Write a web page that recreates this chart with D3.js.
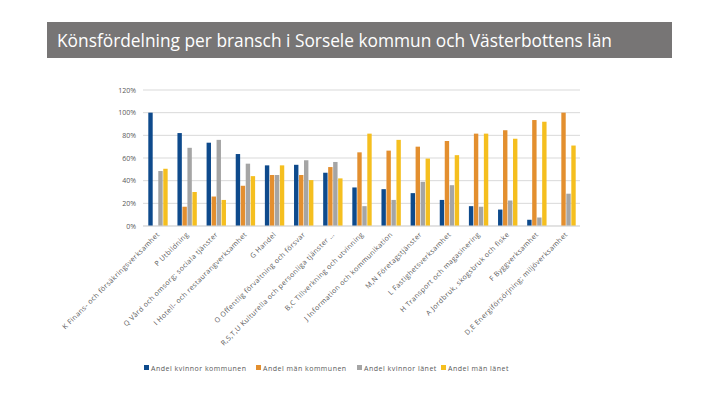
<!DOCTYPE html>
<html><head><meta charset="utf-8">
<script src="https://cdn.jsdelivr.net/npm/d3@7"></script>
<style>body{margin:0;background:#fff;}svg{display:block;}</style>
</head><body>
<svg id="c" width="720" height="405"></svg>
<script>
const categories = [
  "K Finans- och försäkringsverksamhet",
  "P Utbildning",
  "Q Vård och omsorg; sociala tjänster",
  "I Hotell- och restaurangverksamhet",
  "G Handel",
  "O Offentlig förvaltning och försvar",
  "R,S,T,U Kulturella och personliga tjänster …",
  "B,C Tillverkning och utvinning",
  "J Information och kommunikation",
  "M,N Företagstjänster",
  "L Fastighetsverksamhet",
  "H Transport och magasinering",
  "A Jordbruk, skogsbruk och fiske",
  "F Byggverksamhet",
  "D,E Energiförsörjning; miljöverksamhet"
];
const seriesNames = ["Andel kvinnor kommunen","Andel män kommunen","Andel kvinnor länet","Andel män länet"];
const kvinnorKommun = [100,82,73.5,63.5,53.5,54,47,34,32.5,29,23,17.5,14.5,5.5,0];
const manKommun     = [0,17,26,35.5,45,45,52,65,66.5,70,75,81.5,84.5,93.5,100];
const kvinnorLan    = [48.5,69,76,55,45,58,56.5,17.5,23,39,36,17,22.5,7.5,28.5];
const manLan        = [50.5,30,23,44,53.5,40.5,42,81.5,76,59.5,62.5,81.5,77,92,71];
const yTicks = [0,20,40,60,80,100,120];
const colors = ["#0e4a8c","#e38f2f","#a5a5a5","#f5bf1f"];

const series = [kvinnorKommun, manKommun, kvinnorLan, manLan];
const svg = d3.select("#c");
const font = "'Open Sans', sans-serif";

// title bar
svg.append("rect").attr("x",47).attr("y",22).attr("width",625).attr("height",36).attr("fill","#777575");
svg.append("text").attr("x",57).attr("y",47).attr("fill","#fff")
  .attr("font-family","'Open Sans',sans-serif").attr("font-size",19)
  .attr("textLength",555).attr("lengthAdjust","spacingAndGlyphs")
  .text("Könsfördelning per bransch i Sorsele kommun och Västerbottens län");

const x0 = d3.scaleBand().domain(categories).range([148,576]).paddingInner(0.315).paddingOuter(0);
const x1 = d3.scaleBand().domain(d3.range(4)).range([0,x0.bandwidth()]).padding(0);
const y = d3.scaleLinear().domain([0,120]).range([226,90]);

// gridlines
svg.append("g").selectAll("line").data(yTicks).join("line")
  .attr("x1",143).attr("x2",580).attr("y1",d=>y(d)).attr("y2",d=>y(d))
  .attr("stroke","#d9d9d9").attr("stroke-width",1);
svg.append("g").selectAll("text").data(yTicks).join("text")
  .attr("x",136).attr("y",d=>y(d)+2.5).attr("text-anchor","end")
  .attr("font-family",font).attr("font-size",7).attr("fill","#595959")
  .text(d=>d+"%");

// bars
const g = svg.append("g");
categories.forEach((c,i)=>{
  series.forEach((s,k)=>{
    g.append("rect").attr("x",x0(c)+x1(k)+0.3).attr("width",x1.bandwidth()-0.6)
      .attr("y",y(s[i])).attr("height",y(0)-y(s[i])).attr("fill",colors[k]);
  });
});
svg.append("line").attr("x1",143).attr("x2",580).attr("y1",y(0)).attr("y2",y(0)).attr("stroke","#d9d9d9");

// x labels
svg.append("g").selectAll("text").data(categories).join("text")
  .attr("transform",d=>`translate(${x0(d)+x0.bandwidth()/2+2},${y(0)+9}) rotate(-45)`)
  .attr("text-anchor","end").attr("font-family",font).attr("font-size",7)
  .attr("letter-spacing",0.4).attr("fill","#595959")
  .text(d=>d);

// legend
const legX = [144,256,357,441];
seriesNames.forEach((n,k)=>{
  svg.append("rect").attr("x",legX[k]).attr("y",365).attr("width",5).attr("height",5).attr("fill",colors[k]);
  svg.append("text").attr("x",legX[k]+7).attr("y",370.5).attr("font-family",font).attr("font-size",7)
    .attr("letter-spacing",0.5).attr("fill","#595959").text(n);
});
</script>
</body></html>
